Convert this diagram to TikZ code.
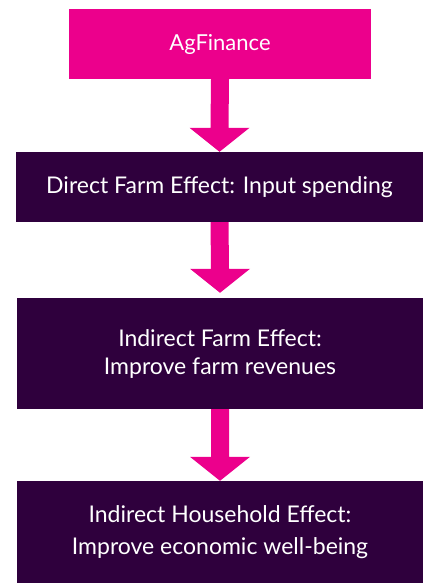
\documentclass[tikz,border=0pt]{standalone}
\usepackage{fontspec}
\setmainfont{Lato}
\usetikzlibrary{calc}
\definecolor{agpink}{HTML}{EC008C}
\definecolor{agplum}{HTML}{2F003D}
% block arrow from the bottom of #1 to a tip #3 pt above the top of #2
\newcommand\flowarrow[3]{%
  \fill[agpink]
    ($(#1.south)+(-9,0)$) -- ($(#1.south)+(9,0)$)
    -- ($(#2.north)+(9,-24-#3)$) -- ($(#2.north)+(30,-24-#3)$)
    -- ($(#2.north)+(0,-#3)$)
    -- ($(#2.north)+(-30,-24-#3)$) -- ($(#2.north)+(-9,-24-#3)$) -- cycle;}
\begin{document}
\begin{tikzpicture}[x=1pt,y=-1pt,
  box/.style={rectangle, inner sep=0pt, text=white, align=center,
    font=\fontsize{23}{28}\selectfont},
  pinkbox/.style={box, fill=agpink},
  plumbox/.style={box, fill=agplum}]
\useasboundingbox (0,0) rectangle (428,583);
\node[pinkbox, minimum width=302pt, minimum height=70pt,
  font=\fontsize{22}{28}\selectfont] (fin) at (220,44)
  {\raisebox{1.5pt}{AgFinance}};
\node[plumbox, minimum width=407pt, minimum height=70pt] (direct) at (219.5,187)
  {Direct Farm Effect: Input spending};
\node[plumbox, minimum width=406pt, minimum height=111pt] (farm) at (220,353.5)
  {Indirect Farm Effect:\\Improve farm revenues};
\node[plumbox, minimum width=406pt, minimum height=102pt,
  font=\fontsize{23}{31.5}\selectfont] (house) at (220,532)
  {Indirect Household Effect:\\Improve economic well-being};
\flowarrow{fin}{direct}{0}
\flowarrow{direct}{farm}{5}
\flowarrow{farm}{house}{0}
\end{tikzpicture}
\end{document}
